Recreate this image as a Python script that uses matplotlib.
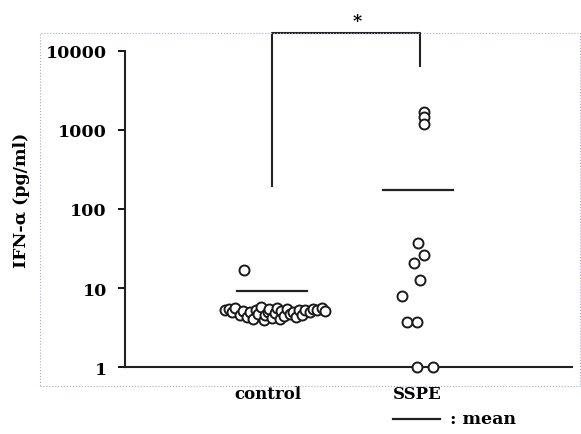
import matplotlib
matplotlib.use('Agg')
import numpy as np
import matplotlib.pyplot as plt
from matplotlib.patches import Rectangle

font = {'family': 'DejaVu Serif', 'weight': 'bold', 'size': 12.5}
matplotlib.rc('font', **font)

groups = ['control', 'SSPE']

# control: (x offset from group centre, IFN-a pg/ml)
ctrl_dx = [-0.29, -0.26, -0.24, -0.22, -0.19, -0.17, -0.14, -0.12, -0.10, -0.08,
           -0.07, -0.05, -0.03, -0.02, 0.00, 0.01, 0.03, 0.05, 0.06, 0.08,
           0.09, 0.11, 0.13, 0.15, 0.17, 0.19, 0.21, 0.23, 0.25, 0.28,
           0.30, 0.33, 0.36, 0.38, -0.16]
ctrl_val = [5.2, 5.4, 4.9, 5.6, 4.6, 5.1, 4.3, 5.0, 4.1, 5.3,
            4.7, 5.8, 3.9, 4.5, 5.0, 5.5, 4.2, 4.8, 5.6, 4.0,
            5.1, 4.4, 5.4, 4.7, 5.0, 4.3, 5.3, 4.6, 5.2, 5.0,
            5.5, 5.2, 5.6, 5.1, 17.0]

sspe_dx = [0.05, 0.05, 0.05, 0.01, 0.05, -0.02, 0.02, -0.10, -0.07, 0.00, 0.00, 0.11]
sspe_val = [1700, 1450, 1200, 37, 26, 21, 12.6, 7.9, 3.7, 3.7, 1.0, 1.0]

means = [9.2, 176]
mean_dx = [(-0.21, 0.26), (-0.23, 0.24)]

fig = plt.figure(figsize=(5.81, 4.35), dpi=100)
ax = fig.add_axes([0.215, 0.154, 0.7695, 0.7265])

ax.plot(1 + np.array(ctrl_dx), ctrl_val, 'o', markersize=7.2, markerfacecolor='white',
        markeredgecolor='#1a1a1a', markeredgewidth=1.4, clip_on=False, zorder=3)
ax.plot(2 + np.array(sspe_dx), sspe_val, 'o', markersize=7.2, markerfacecolor='white',
        markeredgecolor='#1a1a1a', markeredgewidth=1.4, clip_on=False, zorder=3)

for i, m in enumerate(means):
    ax.plot([i + 1 + mean_dx[i][0], i + 1 + mean_dx[i][1]], [m, m], '-',
            color='#222222', linewidth=1.6)

ax.set_yscale('log')
ax.set_ylim(1, 10000)
ax.set_xlim(0.04, 3.04)
ax.set_yticks([1, 10, 100, 1000, 10000])
ax.set_yticklabels(['1', '10', '100', '1000', '10000'])
ax.minorticks_off()
ax.set_xticks([1, 2])
ax.set_xticklabels(groups, fontsize=12)
ax.tick_params(axis='x', length=0, pad=13)
ax.tick_params(axis='y', length=5, width=1.3, direction='out', pad=8)

for s in ['top', 'right']:
    ax.spines[s].set_visible(False)
ax.spines['left'].set_linewidth(1.5)
ax.spines['bottom'].set_linewidth(1.5)
ax.spines['left'].set_color('#222222')
ax.spines['bottom'].set_color('#222222')

ax.set_ylabel('IFN-\u03b1 (pg/ml)', fontsize=12.5, fontweight='bold')
ax.yaxis.set_label_coords(-0.212, 0.53)

# significance bracket
ytop = 10 ** 4.23
ax.plot([1.03, 1.03, 2.02, 2.02], [195, ytop, ytop, 6460], '-', color='#222222',
        linewidth=1.5, clip_on=False)
ax.text(1.6, 10 ** 4.38, '*', ha='center', va='center', fontsize=12.5, clip_on=False)

# mean legend
fig.add_artist(plt.Line2D([393 / 581, 440 / 581], [1 - 420 / 435, 1 - 420 / 435],
                          color='#222222', linewidth=1.6))
fig.text(450 / 581, 1 - 420 / 435, ': mean', ha='left', va='center', fontsize=12.5)

# dotted frame
fig.add_artist(Rectangle((40 / 581, 1 - 387 / 435), 540 / 581, 353 / 435,
                         fill=False, linestyle=':', linewidth=0.8, edgecolor='#a0aed4'))

plt.savefig('out.png', dpi=100)
